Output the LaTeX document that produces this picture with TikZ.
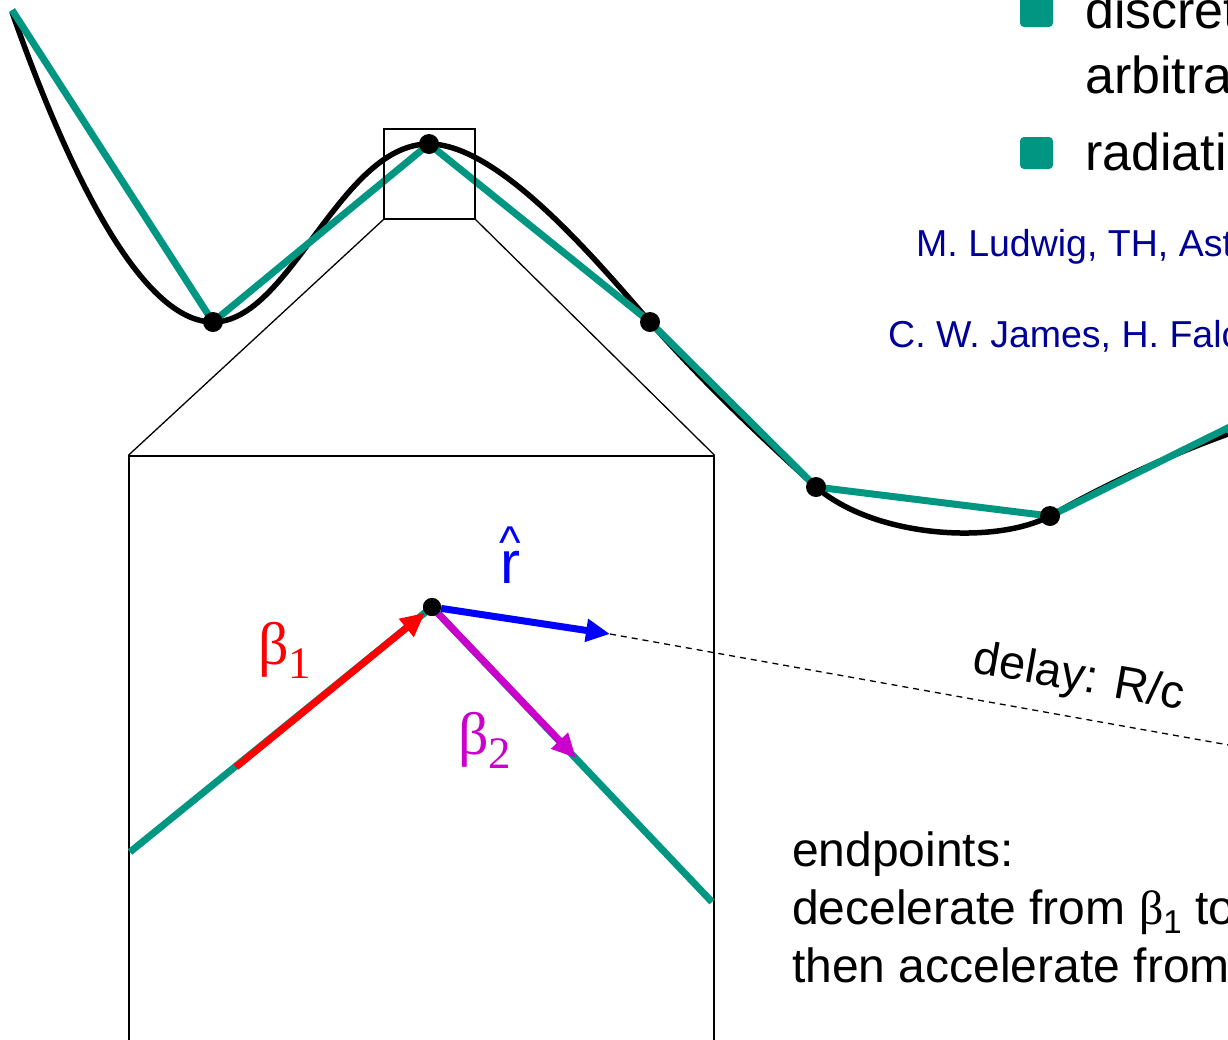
\documentclass[tikz,border=0pt]{standalone}
\usepackage{fontspec}
\setmainfont{Liberation Sans}
\newfontfamily\serifb{Liberation Serif}
\usetikzlibrary{arrows.meta}
\definecolor{tealc}{RGB}{0,150,130}
\definecolor{dblue}{RGB}{0,0,153}
\definecolor{magc}{RGB}{204,0,204}
\tikzset{
  curve/.style={line width=5.5pt, draw=black},
  seg/.style={line width=7pt, draw=tealc},
  dot/.style={circle, fill=black, inner sep=0pt, minimum size=20pt},
  sdot/.style={circle, fill=black, inner sep=0pt, minimum size=18pt},
  frame/.style={draw=black, line width=1.3pt},
  vec/.style={line width=7pt, -{Triangle[length=24pt,width=22pt]}},
  btxt/.style={anchor=base west, inner sep=0pt, font=\fontsize{48}{58}\selectfont},
  ttxt/.style={anchor=base west, inner sep=0pt, font=\fontsize{52}{58}\selectfont},
  ctxt/.style={anchor=base west, inner sep=0pt, text=dblue, font=\fontsize{37.5}{40}\selectfont},
  glab/.style={anchor=base west, inner sep=0pt, font=\serifb\fontsize{60}{60}\selectfont},
  bullet/.style={fill=tealc, rounded corners=4pt, minimum width=33pt, minimum height=32pt, inner sep=0pt},
  delayline/.style={draw=black, line width=1.3pt, dash pattern=on 6pt off 5pt}
}
\begin{document}
\begin{tikzpicture}[x=1pt,y=-1pt]
\useasboundingbox (0,0) rectangle (1228,1039);
\clip (0,0) rectangle (1228,1039);
% trajectory points
\coordinate (s) at (12,10);
\coordinate (s2) at (12,12);
\coordinate (p1) at (213,322);
\coordinate (p2) at (429,144);
\coordinate (p3) at (650,322);
\coordinate (p4) at (816,487);
\coordinate (p5) at (1050,516);
\coordinate (e) at (1260,412);
\coordinate (e2) at (1228,434);
% smooth trajectory
\draw[curve] (s2) .. controls (50,120) and (130,322) .. (p1)
  .. controls (290,322) and (340,144) .. (p2)
  .. controls (500,144) and (600,265) .. (p3)
  .. controls (710,390) and (770,445) .. (p4)
  .. controls (875,538) and (995,545) .. (p5)
  .. controls (1110,482) and (1170,455) .. (e2);
% discretised trajectory
\draw[seg] (s) -- (p1) -- (p2) -- (p3) -- (p4) -- (p5) -- (e);
\node[dot] (d1) at (p1) {};
\node[dot] (d2) at (p2) {};
\node[dot] (d3) at (p3) {};
\node[dot] (d4) at (p4) {};
\node[dot] (d5) at (p5) {};
% zoom boxes
\node[frame, minimum width=91pt, minimum height=90pt, inner sep=0pt] (zb) at (429.5,174) {};
\node[frame, minimum width=585pt, minimum height=700pt, inner sep=0pt] (bb) at (421.5,806) {};
\draw[frame] (zb.south west) -- (bb.north west);
\draw[frame] (zb.south east) -- (bb.north east);
% magnified corner
\coordinate (a0) at (130,852);
\coordinate (a1) at (236,767);
\coordinate (vc) at (432,607);
\coordinate (b1) at (576,758);
\coordinate (b2) at (712,902);
\coordinate (rt) at (610,634);
\coordinate (de) at (1290,756);
\draw[line width=7pt, draw=tealc] (a0) -- (vc) -- (b2);
\node[sdot] (v) at (vc) {};
\draw[vec, draw=red, fill=red] (a1) -- (v);
\draw[vec, draw=magc, fill=magc] (v) -- (b1);
\draw[vec, draw=blue, fill=blue] (v) -- (rt);
\draw[delayline] (rt) -- (de);
\node[sdot] at (vc) {};
% labels
\node[glab, text=red] (lb1) at (258,664) {β\raisebox{-14pt}{\fontsize{45}{45}\selectfont 1}};
\node[glab, text=magc] (lb2) at (458,754) {β\raisebox{-14pt}{\fontsize{45}{45}\selectfont 2}};
\node[anchor=base, inner sep=0pt, text=blue, font=\fontsize{60}{60}\selectfont] (lr) at (510,583)
  {\makebox[0pt][l]{\makebox[20pt][c]{\raisebox{25pt}{\fontsize{46}{46}\selectfont\textasciicircum}}}r};
\node[inner sep=0pt, rotate=-10, font=\fontsize{47}{47}\selectfont] (ldel) at (1079,679) {delay: R/c};
% text top right
\node[bullet] (bu1) at (1036.5,11) {};
\node[bullet] (bu2) at (1036.5,153) {};
\node[ttxt] (t1) at (1085,28) {discrete};
\node[ttxt] (t2) at (1085,93) {arbitrary};
\node[ttxt] (t3) at (1085,170) {radiation};
\node[ctxt] (c1) at (916,256) {M. Ludwig, TH, Astropart.};
\node[ctxt] (c2) at (888,347) {C. W. James, H. Falcke};
% endpoints text
\node[btxt] (x1) at (792,866) {endpoints:};
\node[btxt] (x2) at (792,924) {decelerate from {\serifb β}\raisebox{-9pt}{\fontsize{33}{33}\selectfont 1} to};
\node[btxt] (x3) at (792,982) {then accelerate from};
\end{tikzpicture}
\end{document}
